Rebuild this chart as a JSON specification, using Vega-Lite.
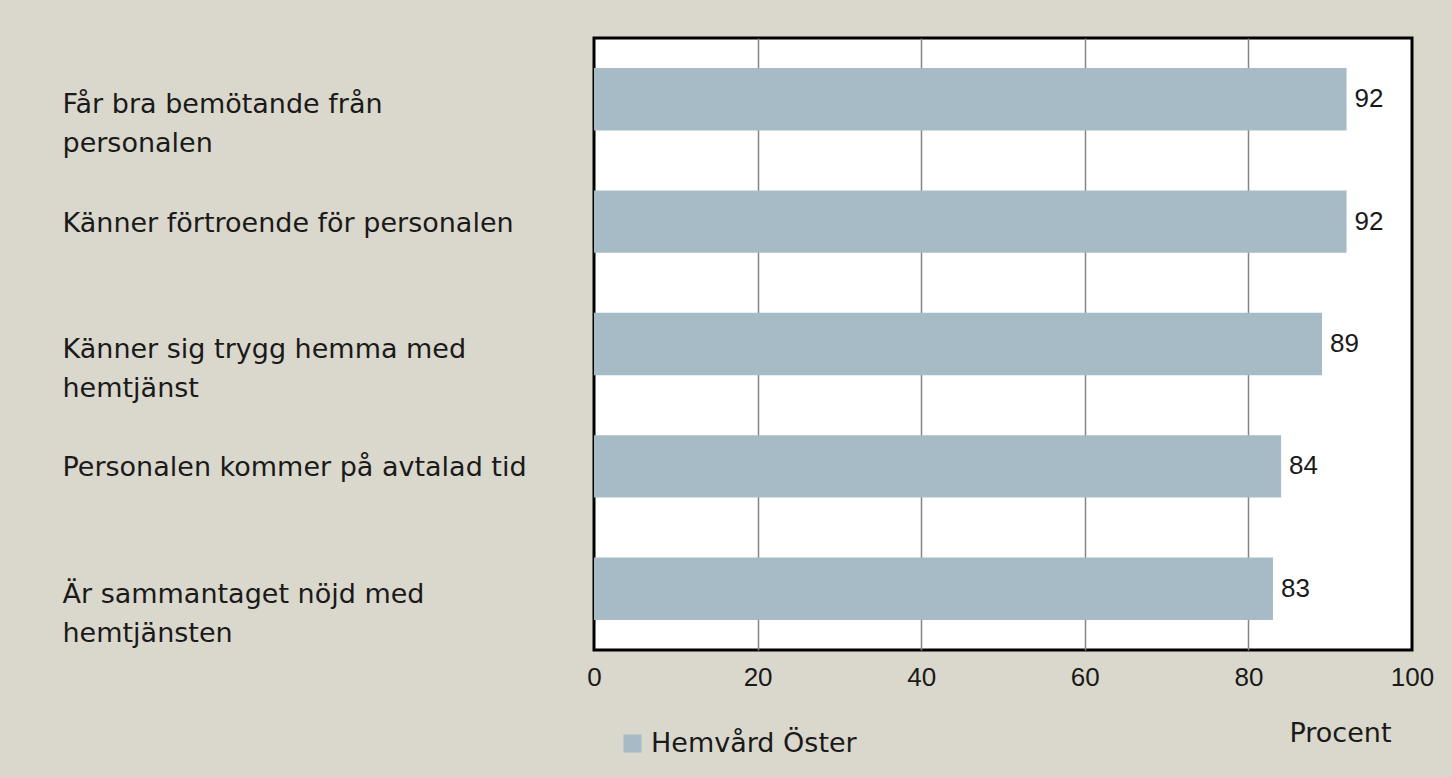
{
  "$schema": "https://vega.github.io/schema/vega-lite/v6.json",
  "width": 818,
  "height": 612,
  "autosize": {"type": "none"},
  "padding": {"left": 594, "top": 38, "right": 40, "bottom": 127},
  "background": "#DAD8CC",
  "config": {
    "view": {"fill": "white", "stroke": "black", "strokeWidth": 3},
    "font": "Liberation Sans"
  },
  "data": {
    "values": [
      {"kategori": "Får bra bemötande från|personalen", "procent": 92, "enhet": "Hemvård Öster"},
      {"kategori": "Känner förtroende för personalen", "procent": 92, "enhet": "Hemvård Öster"},
      {"kategori": "Känner sig trygg hemma med|hemtjänst", "procent": 89, "enhet": "Hemvård Öster"},
      {"kategori": "Personalen kommer på avtalad tid", "procent": 84, "enhet": "Hemvård Öster"},
      {"kategori": "Är sammantaget nöjd med|hemtjänsten", "procent": 83, "enhet": "Hemvård Öster"}
    ]
  },
  "encoding": {
    "y": {
      "field": "kategori",
      "type": "nominal",
      "sort": null,
      "scale": {"paddingInner": 0.49, "paddingOuter": 0.245},
      "axis": {
        "title": null,
        "ticks": false,
        "tickSize": 0,
        "domain": false,
        "labelAlign": "left",
        "labelPadding": 532,
        "labelFont": "DejaVu Sans",
        "labelFontSize": 27,
        "labelColor": "#1a1a1a",
        "labelLimit": 0,
        "labelLineHeight": 39,
        "labelExpr": "split(datum.label, '|')",
        "labelOffset": {"condition": {"test": "indexof(datum.value, '|') >= 0", "value": 6}, "value": 2}
      }
    }
  },
  "layer": [
    {
      "mark": {"type": "bar", "color": "#A7BBC6"},
      "encoding": {
        "x": {
          "field": "procent",
          "type": "quantitative",
          "scale": {"domain": [0, 100], "nice": false},
          "axis": {
            "values": [0, 20, 40, 60, 80, 100],
            "grid": true,
            "gridColor": "#858585",
            "gridWidth": 1.5,
            "gridOpacity": {"condition": {"test": "datum.value == 0 || datum.value == 100", "value": 0}, "value": 1},
            "domain": false,
            "ticks": false,
            "tickSize": 0,
            "labelFlush": false,
            "labelFontSize": 26,
            "labelColor": "#1a1a1a",
            "labelPadding": 14,
            "title": "Procent",
            "titleFont": "DejaVu Sans",
            "titleFontSize": 27,
            "titleFontWeight": "normal",
            "titleColor": "#1a1a1a",
            "titleX": 746,
            "titleY": 83,
            "titleBaseline": "middle",
            "titleAlign": "center"
          }
        },
        "color": {
          "field": "enhet",
          "type": "nominal",
          "scale": {"range": ["#A7BBC6"]},
          "legend": {
            "orient": "none",
            "legendX": 25,
            "legendY": 692,
            "title": null,
            "symbolType": "square",
            "symbolSize": 324,
            "symbolStrokeWidth": 0,
            "labelFont": "DejaVu Sans",
            "labelFontSize": 27,
            "labelColor": "#1a1a1a",
            "labelLimit": 0,
            "labelOffset": 5
          }
        }
      }
    },
    {
      "mark": {"type": "text", "align": "left", "baseline": "middle", "dx": 8, "fontSize": 26, "color": "#1a1a1a"},
      "encoding": {
        "x": {"field": "procent", "type": "quantitative"},
        "text": {"field": "procent", "type": "quantitative"}
      }
    }
  ]
}
